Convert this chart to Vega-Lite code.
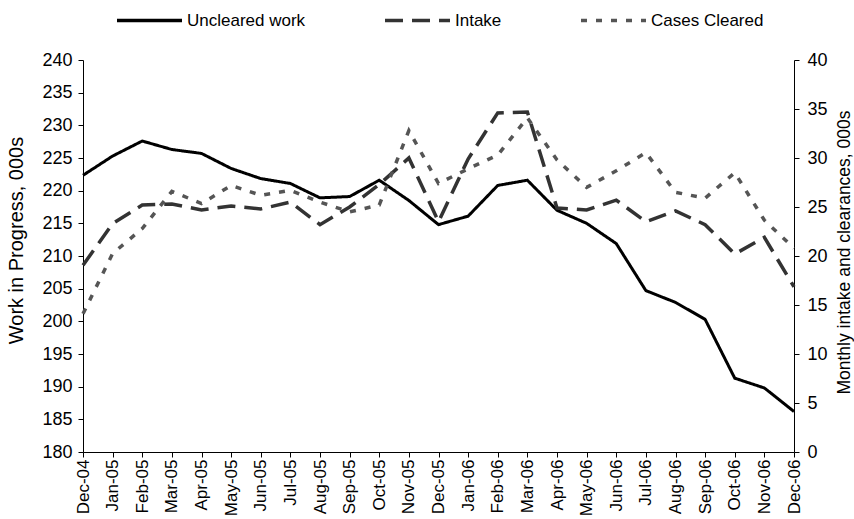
{
  "$schema": "https://vega.github.io/schema/vega-lite/v6.json",
  "width": 711,
  "height": 392,
  "autosize": "none",
  "padding": {"left": 83, "top": 60, "right": 60, "bottom": 67},
  "background": "white",
  "config": {
    "view": {"stroke": null},
    "font": "Liberation Sans",
    "axis": {
      "labelFont": "Liberation Sans",
      "titleFont": "Liberation Sans",
      "labelColor": "black",
      "titleColor": "black",
      "domainColor": "black",
      "tickColor": "black",
      "grid": false,
      "titleFontWeight": "normal",
      "labelFontSize": 18,
      "titleFontSize": 17
    },
    "legend": {"labelFont": "Liberation Sans"}
  },
  "data": {
    "values": [
      {"month": "Dec-04", "series": "Uncleared work", "value": 222.35},
      {"month": "Jan-05", "series": "Uncleared work", "value": 225.3},
      {"month": "Feb-05", "series": "Uncleared work", "value": 227.6},
      {"month": "Mar-05", "series": "Uncleared work", "value": 226.3},
      {"month": "Apr-05", "series": "Uncleared work", "value": 225.7},
      {"month": "May-05", "series": "Uncleared work", "value": 223.4},
      {"month": "Jun-05", "series": "Uncleared work", "value": 221.85},
      {"month": "Jul-05", "series": "Uncleared work", "value": 221.1},
      {"month": "Aug-05", "series": "Uncleared work", "value": 218.9},
      {"month": "Sep-05", "series": "Uncleared work", "value": 219.1},
      {"month": "Oct-05", "series": "Uncleared work", "value": 221.6},
      {"month": "Nov-05", "series": "Uncleared work", "value": 218.5},
      {"month": "Dec-05", "series": "Uncleared work", "value": 214.8},
      {"month": "Jan-06", "series": "Uncleared work", "value": 216.1},
      {"month": "Feb-06", "series": "Uncleared work", "value": 220.8},
      {"month": "Mar-06", "series": "Uncleared work", "value": 221.6},
      {"month": "Apr-06", "series": "Uncleared work", "value": 217.0},
      {"month": "May-06", "series": "Uncleared work", "value": 215.0},
      {"month": "Jun-06", "series": "Uncleared work", "value": 211.9},
      {"month": "Jul-06", "series": "Uncleared work", "value": 204.7},
      {"month": "Aug-06", "series": "Uncleared work", "value": 202.9},
      {"month": "Sep-06", "series": "Uncleared work", "value": 200.3},
      {"month": "Oct-06", "series": "Uncleared work", "value": 191.3},
      {"month": "Nov-06", "series": "Uncleared work", "value": 189.8},
      {"month": "Dec-06", "series": "Uncleared work", "value": 186.2},
      {"month": "Dec-04", "series": "Intake", "value": 19.06},
      {"month": "Jan-05", "series": "Intake", "value": 23.3},
      {"month": "Feb-05", "series": "Intake", "value": 25.2},
      {"month": "Mar-05", "series": "Intake", "value": 25.3},
      {"month": "Apr-05", "series": "Intake", "value": 24.7},
      {"month": "May-05", "series": "Intake", "value": 25.1},
      {"month": "Jun-05", "series": "Intake", "value": 24.8},
      {"month": "Jul-05", "series": "Intake", "value": 25.5},
      {"month": "Aug-05", "series": "Intake", "value": 23.2},
      {"month": "Sep-05", "series": "Intake", "value": 25.0},
      {"month": "Oct-05", "series": "Intake", "value": 27.3},
      {"month": "Nov-05", "series": "Intake", "value": 30.0},
      {"month": "Dec-05", "series": "Intake", "value": 23.5},
      {"month": "Jan-06", "series": "Intake", "value": 29.9},
      {"month": "Feb-06", "series": "Intake", "value": 34.6},
      {"month": "Mar-06", "series": "Intake", "value": 34.7},
      {"month": "Apr-06", "series": "Intake", "value": 24.9},
      {"month": "May-06", "series": "Intake", "value": 24.7},
      {"month": "Jun-06", "series": "Intake", "value": 25.7},
      {"month": "Jul-06", "series": "Intake", "value": 23.5},
      {"month": "Aug-06", "series": "Intake", "value": 24.6},
      {"month": "Sep-06", "series": "Intake", "value": 23.2},
      {"month": "Oct-06", "series": "Intake", "value": 20.2},
      {"month": "Nov-06", "series": "Intake", "value": 21.9},
      {"month": "Dec-06", "series": "Intake", "value": 16.85},
      {"month": "Dec-04", "series": "Cases Cleared", "value": 14.1},
      {"month": "Jan-05", "series": "Cases Cleared", "value": 20.25},
      {"month": "Feb-05", "series": "Cases Cleared", "value": 22.8},
      {"month": "Mar-05", "series": "Cases Cleared", "value": 26.6},
      {"month": "Apr-05", "series": "Cases Cleared", "value": 25.35},
      {"month": "May-05", "series": "Cases Cleared", "value": 27.2},
      {"month": "Jun-05", "series": "Cases Cleared", "value": 26.2},
      {"month": "Jul-05", "series": "Cases Cleared", "value": 26.7},
      {"month": "Aug-05", "series": "Cases Cleared", "value": 25.5},
      {"month": "Sep-05", "series": "Cases Cleared", "value": 24.5},
      {"month": "Oct-05", "series": "Cases Cleared", "value": 25.2},
      {"month": "Nov-05", "series": "Cases Cleared", "value": 32.8},
      {"month": "Dec-05", "series": "Cases Cleared", "value": 27.4},
      {"month": "Jan-06", "series": "Cases Cleared", "value": 28.9},
      {"month": "Feb-06", "series": "Cases Cleared", "value": 30.3},
      {"month": "Mar-06", "series": "Cases Cleared", "value": 34.1},
      {"month": "Apr-06", "series": "Cases Cleared", "value": 29.8},
      {"month": "May-06", "series": "Cases Cleared", "value": 27.0},
      {"month": "Jun-06", "series": "Cases Cleared", "value": 28.7},
      {"month": "Jul-06", "series": "Cases Cleared", "value": 30.55},
      {"month": "Aug-06", "series": "Cases Cleared", "value": 26.5},
      {"month": "Sep-06", "series": "Cases Cleared", "value": 25.9},
      {"month": "Oct-06", "series": "Cases Cleared", "value": 28.5},
      {"month": "Nov-06", "series": "Cases Cleared", "value": 23.65},
      {"month": "Dec-06", "series": "Cases Cleared", "value": 20.8}
    ]
  },
  "encoding": {
    "x": {
      "field": "month",
      "type": "ordinal",
      "sort": ["Dec-04","Jan-05","Feb-05","Mar-05","Apr-05","May-05","Jun-05","Jul-05","Aug-05","Sep-05","Oct-05","Nov-05","Dec-05","Jan-06","Feb-06","Mar-06","Apr-06","May-06","Jun-06","Jul-06","Aug-06","Sep-06","Oct-06","Nov-06","Dec-06"],
      "scale": {"type": "point", "padding": 0},
      "axis": {
        "title": null,
        "labelAngle": -90,
        "labelPadding": 2,
        "tickSize": 5,
        "labelFontSize": 17,
        "encode": {"ticks": {"update": {"y": {"value": -5}}}}
      }
    },
    "color": {
      "field": "series",
      "type": "nominal",
      "scale": {"domain": ["Uncleared work", "Intake", "Cases Cleared"], "range": ["#000000", "#333333", "#555555"]},
      "legend": {
        "title": null,
        "orient": "none",
        "direction": "horizontal",
        "legendX": 32,
        "legendY": -74,
        "symbolType": "stroke",
        "symbolSize": 4225,
        "symbolStrokeWidth": 3.5,
        "labelFontSize": 17,
        "labelColor": "black",
        "labelOffset": 3,
        "columnPadding": 72,
        "gridAlign": "none"
      }
    },
    "strokeDash": {
      "field": "series",
      "type": "nominal",
      "scale": {"domain": ["Uncleared work", "Intake", "Cases Cleared"], "range": [[1, 0], [18, 9], [6, 9]]},
      "legend": {
        "title": null,
        "orient": "none",
        "direction": "horizontal",
        "legendX": 32,
        "legendY": -74,
        "symbolType": "stroke",
        "symbolSize": 4225,
        "symbolStrokeWidth": 3.5,
        "labelFontSize": 17,
        "labelColor": "black",
        "labelOffset": 3,
        "columnPadding": 72,
        "gridAlign": "none"
      }
    }
  },
  "layer": [
    {
      "transform": [{"filter": "datum.series === 'Uncleared work'"}],
      "mark": {"type": "line", "strokeWidth": 3},
      "encoding": {
        "y": {
          "field": "value",
          "type": "quantitative",
          "scale": {"domain": [180, 240], "nice": false, "zero": false},
          "axis": {
            "title": "Work in Progress, 000s",
            "titleFontSize": 20,
            "values": [180,185,190,195,200,205,210,215,220,225,230,235,240],
            "tickSize": 5,
            "labelPadding": 6,
            "titleX": -57,
            "titleY": 180,
            "titleAngle": 270,
            "encode": {"ticks": {"update": {"x": {"value": 5}}}}
          }
        }
      }
    },
    {
      "transform": [{"filter": "datum.series !== 'Uncleared work'"}],
      "mark": {"type": "line", "strokeWidth": 3.5},
      "encoding": {
        "y": {
          "field": "value",
          "type": "quantitative",
          "scale": {"domain": [0, 40], "nice": false},
          "axis": {
            "orient": "right",
            "title": "Monthly intake and clearances, 000s",
            "titleFontSize": 17.5,
            "values": [0,5,10,15,20,25,30,35,40],
            "tickSize": 5,
            "labelPadding": 8,
            "titleX": 59,
            "titleY": 192,
            "titleAngle": 270,
            "encode": {"ticks": {"update": {"x": {"value": -5}}}}
          }
        }
      }
    }
  ],
  "resolve": {"scale": {"y": "independent"}}
}
